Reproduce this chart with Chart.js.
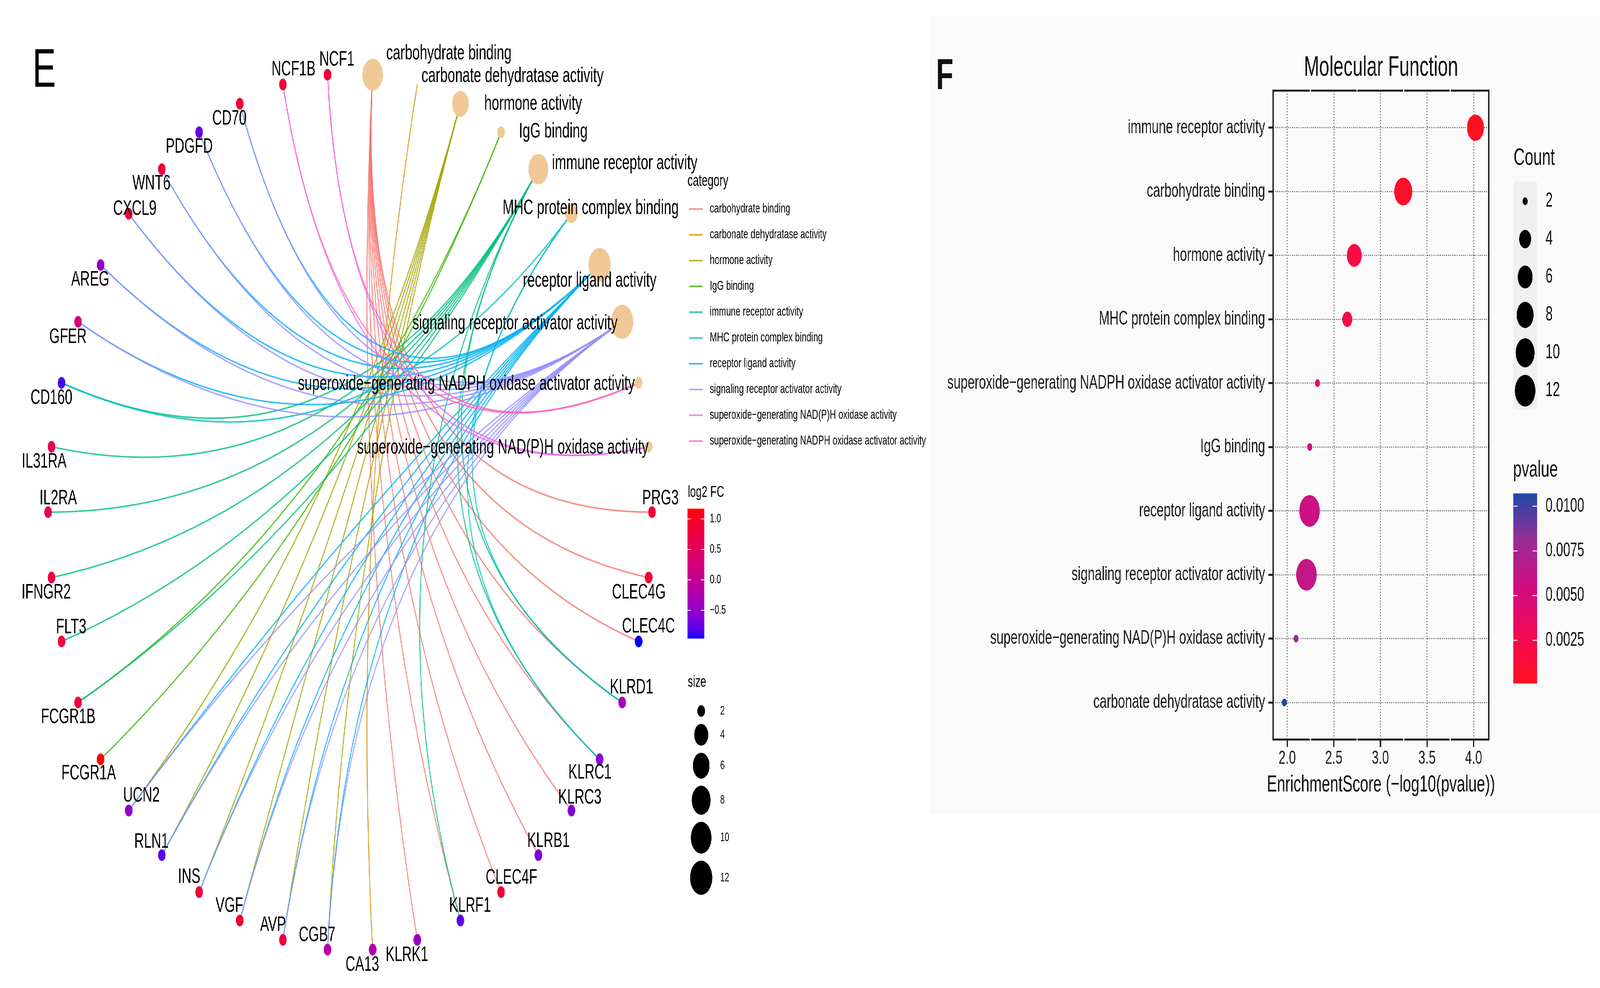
<!DOCTYPE html>
<html>
<head>
<meta charset="utf-8">
<script src="https://cdn.jsdelivr.net/npm/chart.js@4.4.1/dist/chart.umd.min.js"></script>
<style>
  html, body { margin: 0; padding: 0; background: #fff; overflow: hidden; }
  #page { position: absolute; left: 0; top: 0; width: 6316px; height: 2529px; transform-origin: 0 0; background: #fff; }
  #bgF { position: absolute; left: 3668px; top: 40px; width: 2648px; height: 2044px; background: #fafafa; }
  canvas { position: absolute; }
  #netE { left: 0; top: 0; width: 3660px; height: 2529px; }
  #dotF { left: 3668px; top: 0; width: 2648px; height: 2100px; }
</style>
</head>
<body>
<div id="page">
  <div id="bgF"></div>
  <canvas id="netE" width="3660" height="2529"></canvas>
  <canvas id="dotF" width="2648" height="2100"></canvas>
</div>
<script>
// ==================== MISE A L'ECHELLE DE LA PAGE ====================
// la figure est construite en 6316 x 2529 puis ajustee a la fenetre

const scaleX = window.innerWidth / 6316;
const scaleY = window.innerHeight / 2529;
document.getElementById('page').style.transform = `scale(${scaleX}, ${scaleY})`;
document.body.style.height = window.innerHeight + 'px';

// ==================== DONNEES PANEL E (reseau gene / categorie) ====================

const categories = [
  'carbohydrate binding',
  'carbonate dehydratase activity',
  'hormone activity',
  'IgG binding',
  'immune receptor activity',
  'MHC protein complex binding',
  'receptor ligand activity',
  'signaling receptor activator activity',
  'superoxide\u2212generating NAD(P)H oxidase activity',
  'superoxide\u2212generating NADPH oxidase activator activity'
];

// genes relies a chaque categorie (meme ordre que categories)
const categoryGenes = [
  ['PRG3', 'CLEC4G', 'CLEC4C', 'KLRD1', 'KLRC1', 'KLRC3', 'KLRB1', 'CLEC4F', 'KLRF1', 'KLRK1'],
  ['CA13'],
  ['UCN2', 'RLN1', 'INS', 'VGF', 'AVP', 'CGB7'],
  ['FCGR1B', 'FCGR1A'],
  ['CD160', 'IL31RA', 'IL2RA', 'IFNGR2', 'FLT3', 'FCGR1B', 'KLRF1', 'KLRC1', 'KLRD1'],
  ['CD160', 'KLRC1', 'KLRD1'],
  ['CD70', 'PDGFD', 'WNT6', 'CXCL9', 'AREG', 'GFER', 'UCN2', 'RLN1', 'INS', 'VGF', 'AVP', 'CGB7'],
  ['CD70', 'PDGFD', 'WNT6', 'CXCL9', 'AREG', 'GFER', 'UCN2', 'RLN1', 'INS', 'VGF', 'AVP', 'CGB7'],
  ['NCF1', 'NCF1B'],
  ['NCF1', 'NCF1B']
];

const genes = ['NCF1', 'NCF1B', 'CD70', 'PDGFD', 'WNT6', 'CXCL9', 'AREG', 'GFER', 'CD160', 'IL31RA',
  'IL2RA', 'IFNGR2', 'FLT3', 'FCGR1B', 'FCGR1A', 'UCN2', 'RLN1', 'INS', 'VGF', 'AVP', 'CGB7',
  'CA13', 'KLRK1', 'KLRF1', 'CLEC4F', 'KLRB1', 'KLRC3', 'KLRC1', 'KLRD1', 'CLEC4C', 'CLEC4G', 'PRG3'];

const geneLog2FC = [0.85, 0.85, 0.8, -0.75, 0.8, 0.85, -0.45, 0.25, -0.85, 0.65,
  0.5, 0.8, 0.8, 0.85, 1.17, -0.5, -0.8, 0.8, 0.85, 0.8, -0.2,
  -0.22, -0.45, -0.78, 0.85, -0.65, -0.6, -0.55, -0.35, -0.96, 0.85, 0.8];

// ordre des noeuds sur le cercle (sens trigo, depart a droite)
const circleOrder = ['PRG3',
  categories[8], categories[9], categories[7], categories[6], categories[5],
  categories[4], categories[3], categories[2], categories[1], categories[0],
  'NCF1', 'NCF1B', 'CD70', 'PDGFD', 'WNT6', 'CXCL9', 'AREG', 'GFER', 'CD160', 'IL31RA',
  'IL2RA', 'IFNGR2', 'FLT3', 'FCGR1B', 'FCGR1A', 'UCN2', 'RLN1', 'INS', 'VGF', 'AVP', 'CGB7',
  'CA13', 'KLRK1', 'KLRF1', 'CLEC4F', 'KLRB1', 'KLRC3', 'KLRC1', 'KLRD1', 'CLEC4C', 'CLEC4G'];

const fcBreaks = [1.0, 0.5, 0.0, -0.5];
const sizeBreaks = [2, 4, 6, 8, 10, 12];

// ==================== DONNEES PANEL F (dotplot) ====================

const mfTerms = [
  'immune receptor activity',
  'carbohydrate binding',
  'hormone activity',
  'MHC protein complex binding',
  'superoxide\u2212generating NADPH oxidase activator activity',
  'IgG binding',
  'receptor ligand activity',
  'signaling receptor activator activity',
  'superoxide\u2212generating NAD(P)H oxidase activity',
  'carbonate dehydratase activity'
];
const mfScore = [4.02, 3.245, 2.72, 2.645, 2.325, 2.242, 2.24, 2.207, 2.095, 1.97];
const mfCount = [8, 9, 6, 3, 2, 2, 12, 12, 2, 2];
const scoreTicks = [2.0, 2.5, 3.0, 3.5, 4.0];
const countBreaks = [2, 4, 6, 8, 10, 12];
const pvalueBreaks = [0.0100, 0.0075, 0.0050, 0.0025];

// ==================== STYLES ====================

const FONT = "'Liberation Sans', Arial, sans-serif";
const categoryColors = ['#F8766D', '#D89000', '#A3A500', '#39B600', '#00BF7D',
  '#00BFC4', '#00B0F6', '#9590FF', '#E76BF3', '#FF62BC'];
const categoryNodeColor = '#F0C896';
const pvalStops = ['#ff1020', '#f20a55', '#d40c80', '#9b2c96', '#1c4aa5'];

// decalage des etiquettes (px, centre du texte par rapport au noeud)
const geneLabelNudge = {
  NCF1B: [42, -38], NCF1: [37, -38], CD70: [-41, 39], PDGFD: [-39, 38], WNT6: [-41, 37],
  CXCL9: [24, -12], AREG: [-41, 38], GFER: [-40, 40], CD160: [-40, 39], IL31RA: [-29, 39],
  IL2RA: [40, -35], IFNGR2: [-21, 39], FLT3: [38, -36], FCGR1B: [-39, 38], FCGR1A: [-47, 37],
  UCN2: [50, -37], RLN1: [-41, -34], INS: [-39, -38], VGF: [-41, -37], AVP: [-39, -37],
  CGB7: [-41, -36], CA13: [-41, 40], KLRK1: [-41, 40], KLRF1: [38, -37], CLEC4F: [41, -36],
  KLRB1: [40, -36], KLRC3: [33, -32], KLRC1: [-38, 35], KLRD1: [37, -38], CLEC4C: [39, -38],
  CLEC4G: [-39, 39], PRG3: [33, -35]
};
const categoryLabelNudge = [[301, -54], [376, -21], [287, 1], [206, -1], [341, -15],
  [76, -14], [-39, 41], [-423, 5], [-576, 3], [-680, 3]];

// ==================== COULEURS ====================

function hexRgb(h) {
  const n = parseInt(h.slice(1), 16);
  return [(n >> 16) & 255, (n >> 8) & 255, n & 255];
}
function rgba(h, a) {
  const [r, g, b] = hexRgb(h);
  return `rgba(${r},${g},${b},${a})`;
}
function toLin(c) { c /= 255; return c <= 0.04045 ? c / 12.92 : Math.pow((c + 0.055) / 1.055, 2.4); }
function fromLin(c) {
  c = Math.max(0, Math.min(1, c));
  const v = c <= 0.0031308 ? 12.92 * c : 1.055 * Math.pow(c, 1 / 2.4) - 0.055;
  return Math.round(v * 255);
}
function rgbToLab(rgb) {
  const [R, G, B] = rgb.map(toLin);
  const X = (0.4124 * R + 0.3576 * G + 0.1805 * B) / 0.95047;
  const Y = 0.2126 * R + 0.7152 * G + 0.0722 * B;
  const Z = (0.0193 * R + 0.1192 * G + 0.9505 * B) / 1.08883;
  const f = t => t > 0.008856 ? Math.cbrt(t) : 7.787 * t + 16 / 116;
  return [116 * f(Y) - 16, 500 * (f(X) - f(Y)), 200 * (f(Y) - f(Z))];
}
function labToRgb([L, a, b]) {
  const fy = (L + 16) / 116, fx = fy + a / 500, fz = fy - b / 200;
  const inv = t => t > 0.206893 ? t * t * t : (t - 16 / 116) / 7.787;
  const X = 0.95047 * inv(fx), Y = inv(fy), Z = 1.08883 * inv(fz);
  const R = 3.2406 * X - 1.5372 * Y - 0.4986 * Z;
  const G = -0.9689 * X + 1.8758 * Y + 0.0415 * Z;
  const B = 0.0557 * X - 0.2040 * Y + 1.0570 * Z;
  return `rgb(${fromLin(R)},${fromLin(G)},${fromLin(B)})`;
}

const LAB_LOW = rgbToLab(hexRgb('#0000FF'));
const LAB_HIGH = rgbToLab(hexRgb('#FF0000'));
const fcMin = Math.min(...geneLog2FC), fcMax = Math.max(...geneLog2FC);
function fcColor(v) {
  const t = (v - fcMin) / (fcMax - fcMin);
  return labToRgb(LAB_LOW.map((c, i) => c + t * (LAB_HIGH[i] - c)));
}

const mfPvalue = mfScore.map(s => Math.pow(10, -s));
const pMin = Math.min(...mfPvalue), pMax = Math.max(...mfPvalue);
function pvalColor(p) {
  const t = Math.max(0, Math.min(1, (p - pMin) / (pMax - pMin))) * (pvalStops.length - 1);
  const i = Math.min(Math.floor(t), pvalStops.length - 2), f = t - i;
  const a = hexRgb(pvalStops[i]), b = hexRgb(pvalStops[i + 1]);
  return `rgb(${a.map((c, k) => Math.round(c + (b[k] - c) * f)).join(',')})`;
}

// taille des points (diametre en px), echelle en aire entre 2 et 12
const netDiam = n => n < 2 ? 0 : 30 + 57.5 * Math.sqrt((n - 2) / 10);
const countDiam = n => 20 + 61 * Math.sqrt(Math.max(0, n - 2) / 10);

// ==================== LAYOUT CIRCULAIRE ====================

const nodePos = {};
circleOrder.forEach((name, k) => {
  const th = 2 * Math.PI * k / circleOrder.length;
  nodePos[name] = { x: Math.cos(th), y: Math.sin(th) };
});
const categorySize = categoryGenes.map(g => g.length);

Chart.defaults.font.family = FONT;

// ==================== PLUGIN PANEL E ====================

const pluginReseau = {
  id: 'reseau',
  beforeDatasetsDraw(chart) {
    const { ctx, scales: { x, y } } = chart;
    const cx = x.getPixelForValue(0), cy = y.getPixelForValue(0);
    ctx.save();
    ctx.lineWidth = 4;
    categories.forEach((cat, ci) => {
      const p2 = nodePos[cat];
      ctx.strokeStyle = rgba(categoryColors[ci], 0.8);
      categoryGenes[ci].forEach(g => {
        const p0 = nodePos[g];
        ctx.beginPath();
        ctx.moveTo(x.getPixelForValue(p0.x), y.getPixelForValue(p0.y));
        ctx.quadraticCurveTo(cx, cy, x.getPixelForValue(p2.x), y.getPixelForValue(p2.y));
        ctx.stroke();
      });
    });
    ctx.restore();
  },
  afterDatasetsDraw(chart) {
    const { ctx, scales: { x, y } } = chart;
    ctx.save();
    ctx.fillStyle = '#000';
    ctx.textBaseline = 'middle';
    ctx.textAlign = 'center';
    ctx.font = `53px ${FONT}`;
    genes.forEach(g => {
      const [dx, dy] = geneLabelNudge[g];
      ctx.fillText(g, x.getPixelForValue(nodePos[g].x) + dx, y.getPixelForValue(nodePos[g].y) + dy);
    });
    categories.forEach((c, i) => {
      const [dx, dy] = categoryLabelNudge[i];
      ctx.fillText(c, x.getPixelForValue(nodePos[c].x) + dx, y.getPixelForValue(nodePos[c].y) + dy);
    });

    // lettre du panneau
    ctx.textAlign = 'left';
    ctx.textBaseline = 'alphabetic';
    ctx.font = `140px ${FONT}`;
    ctx.fillText('E', 128, 222);

    // legende category
    ctx.textBaseline = 'middle';
    ctx.font = `42px ${FONT}`;
    ctx.fillText('category', 2714, 464);
    ctx.font = `34px ${FONT}`;
    categories.forEach((c, i) => {
      const yy = 535 + 66 * i;
      ctx.strokeStyle = rgba(categoryColors[i], 0.8);
      ctx.lineWidth = 4;
      ctx.beginPath();
      ctx.moveTo(2720, yy);
      ctx.lineTo(2774, yy);
      ctx.stroke();
      ctx.fillText(c, 2802, yy);
    });

    // legende log2 FC
    ctx.font = `41px ${FONT}`;
    ctx.fillText('log2 FC', 2715, 1261);
    const bx = 2714, bw = 66, bt = 1302, bh = 332;
    for (let j = 0; j < bh; j++) {
      ctx.fillStyle = fcColor(fcMax - (j + 0.5) / bh * (fcMax - fcMin));
      ctx.fillRect(bx, bt + j, bw, 1.5);
    }
    ctx.font = `32px ${FONT}`;
    fcBreaks.forEach(v => {
      const yy = bt + (fcMax - v) / (fcMax - fcMin) * bh;
      ctx.strokeStyle = '#fff';
      ctx.lineWidth = 2;
      ctx.beginPath();
      ctx.moveTo(bx, yy); ctx.lineTo(bx + 14, yy);
      ctx.moveTo(bx + bw - 14, yy); ctx.lineTo(bx + bw, yy);
      ctx.stroke();
      ctx.fillStyle = '#000';
      ctx.fillText(v.toFixed(1).replace('-', '\u2212'), 2802, yy);
    });

    // legende size
    ctx.font = `41px ${FONT}`;
    ctx.fillText('size', 2715, 1747);
    ctx.font = `32px ${FONT}`;
    let yk = 1820;
    sizeBreaks.forEach((n, i) => {
      const d = netDiam(n);
      if (i > 0) yk += (netDiam(sizeBreaks[i - 1]) + d) / 2 + 18;
      ctx.fillStyle = '#000';
      ctx.beginPath();
      ctx.arc(2768, yk, d / 2, 0, 2 * Math.PI);
      ctx.fill();
      ctx.fillText(String(n), 2843, yk);
    });
    ctx.restore();
  }
};

new Chart(document.getElementById('netE'), {
  type: 'scatter',
  data: {
    datasets: [
      {
        data: genes.map(g => nodePos[g]),
        pointBackgroundColor: genes.map((g, i) => fcColor(geneLog2FC[i])),
        pointRadius: 15,
        pointBorderWidth: 0
      },
      {
        data: categories.map(c => nodePos[c]),
        pointBackgroundColor: categoryNodeColor,
        pointRadius: categorySize.map(n => netDiam(n) / 2),
        pointBorderWidth: 0
      }
    ]
  },
  options: {
    responsive: false,
    animation: false,
    devicePixelRatio: 1,
    events: [],
    layout: { padding: 0, autoPadding: false },
    plugins: { legend: { display: false }, tooltip: { enabled: false } },
    scales: {
      x: { type: 'linear', min: -1.1594, max: 1.9111, display: false },
      y: { type: 'linear', min: -1.0846, max: 1.1674, display: false }
    }
  },
  plugins: [pluginReseau]
});

// ==================== PLUGIN PANEL F ====================

const pluginDotplot = {
  id: 'dotplot',
  afterDraw(chart) {
    const { ctx, chartArea: a, scales: { x } } = chart;
    const mid = (a.left + a.right) / 2;
    ctx.save();

    // cadre
    ctx.strokeStyle = '#1a1a1a';
    ctx.lineWidth = 5;
    ctx.strokeRect(a.left, a.top, a.right - a.left, a.bottom - a.top);
    ctx.strokeStyle = '#fafafa';
    ctx.lineWidth = 4;
    [2.25, 2.75, 3.25, 3.75].forEach(v => {
      const px = x.getPixelForValue(v);
      ctx.beginPath();
      ctx.moveTo(px, a.top - 3); ctx.lineTo(px, a.top + 3);
      ctx.moveTo(px, a.bottom - 3); ctx.lineTo(px, a.bottom + 3);
      ctx.stroke();
    });

    ctx.fillStyle = '#111';
    ctx.textBaseline = 'middle';
    ctx.textAlign = 'center';
    ctx.font = `72px ${FONT}`;
    ctx.fillText('Molecular Function', mid, 174);
    ctx.font = `59px ${FONT}`;
    ctx.fillText('EnrichmentScore (\u2212log10(pvalue))', mid, 2010);

    ctx.textAlign = 'left';
    ctx.textBaseline = 'alphabetic';
    ctx.font = `bold 112px ${FONT}`;
    ctx.fillText('F', 27, 228);

    // legende Count
    const lx = a.right + 96, lw = 95;
    ctx.textBaseline = 'middle';
    ctx.font = `61px ${FONT}`;
    ctx.fillText('Count', lx + 2, 405);
    ctx.fillStyle = '#f0f0f0';
    ctx.fillRect(lx, 465, lw, 584);
    ctx.font = `51px ${FONT}`;
    countBreaks.forEach((n, i) => {
      const yy = 515 + 97 * i;
      ctx.fillStyle = '#000';
      ctx.beginPath();
      ctx.arc(lx + lw / 2, yy, countDiam(n) / 2, 0, 2 * Math.PI);
      ctx.fill();
      ctx.fillStyle = '#111';
      ctx.fillText(String(n), lx + 128, yy);
    });

    // legende pvalue
    ctx.font = `60px ${FONT}`;
    ctx.fillText('pvalue', lx, 1203);
    const bt = 1263, bh = 486;
    for (let j = 0; j < bh; j++) {
      ctx.fillStyle = pvalColor(pMax - (j + 0.5) / bh * (pMax - pMin));
      ctx.fillRect(lx, bt + j, lw, 1.5);
    }
    ctx.font = `50px ${FONT}`;
    pvalueBreaks.forEach(v => {
      const yy = bt + (pMax - v) / (pMax - pMin) * bh;
      ctx.strokeStyle = 'rgba(255,255,255,0.8)';
      ctx.lineWidth = 3;
      ctx.beginPath();
      ctx.moveTo(lx, yy); ctx.lineTo(lx + 18, yy);
      ctx.moveTo(lx + lw - 18, yy); ctx.lineTo(lx + lw, yy);
      ctx.stroke();
      ctx.fillStyle = '#111';
      ctx.fillText(v.toFixed(4), lx + 128, yy);
    });
    ctx.restore();
  }
};

const gridF = {
  color: '#555',
  lineWidth: 3,
  drawTicks: true,
  tickLength: 19,
  tickColor: '#1a1a1a',
  tickWidth: 5,
  tickBorderDash: []
};

new Chart(document.getElementById('dotF'), {
  type: 'bubble',
  data: {
    datasets: [{
      data: mfScore.map((s, i) => ({ x: s, y: i, r: countDiam(mfCount[i]) / 2 })),
      backgroundColor: mfPvalue.map(p => pvalColor(p)),
      borderWidth: 0
    }]
  },
  options: {
    responsive: false,
    animation: false,
    devicePixelRatio: 1,
    events: [],
    layout: { padding: { top: 232, right: 439, bottom: 0, left: 0 }, autoPadding: false },
    plugins: { legend: { display: false }, tooltip: { enabled: false } },
    scales: {
      x: {
        type: 'linear', min: 1.85, max: 4.163,
        afterBuildTicks: s => { s.ticks = scoreTicks.map(v => ({ value: v })); },
        afterFit: s => { s.height = 207; },
        ticks: { callback: v => Number(v).toFixed(1), font: { size: 49 }, color: '#1a1a1a', padding: 0, maxRotation: 0 },
        grid: gridF,
        border: { display: false, dash: [3, 4.5] }
      },
      y: {
        type: 'linear', min: -0.58, max: 9.58, reverse: true,
        afterBuildTicks: s => { s.ticks = mfTerms.map((t, i) => ({ value: i })); },
        afterFit: s => { s.width = 1358; },
        ticks: { callback: v => mfTerms[v], font: { size: 50 }, color: '#1a1a1a', padding: 13, autoSkip: false },
        grid: gridF,
        border: { display: false, dash: [3, 4.5] }
      }
    }
  },
  plugins: [pluginDotplot]
});
</script>
</body>
</html>
